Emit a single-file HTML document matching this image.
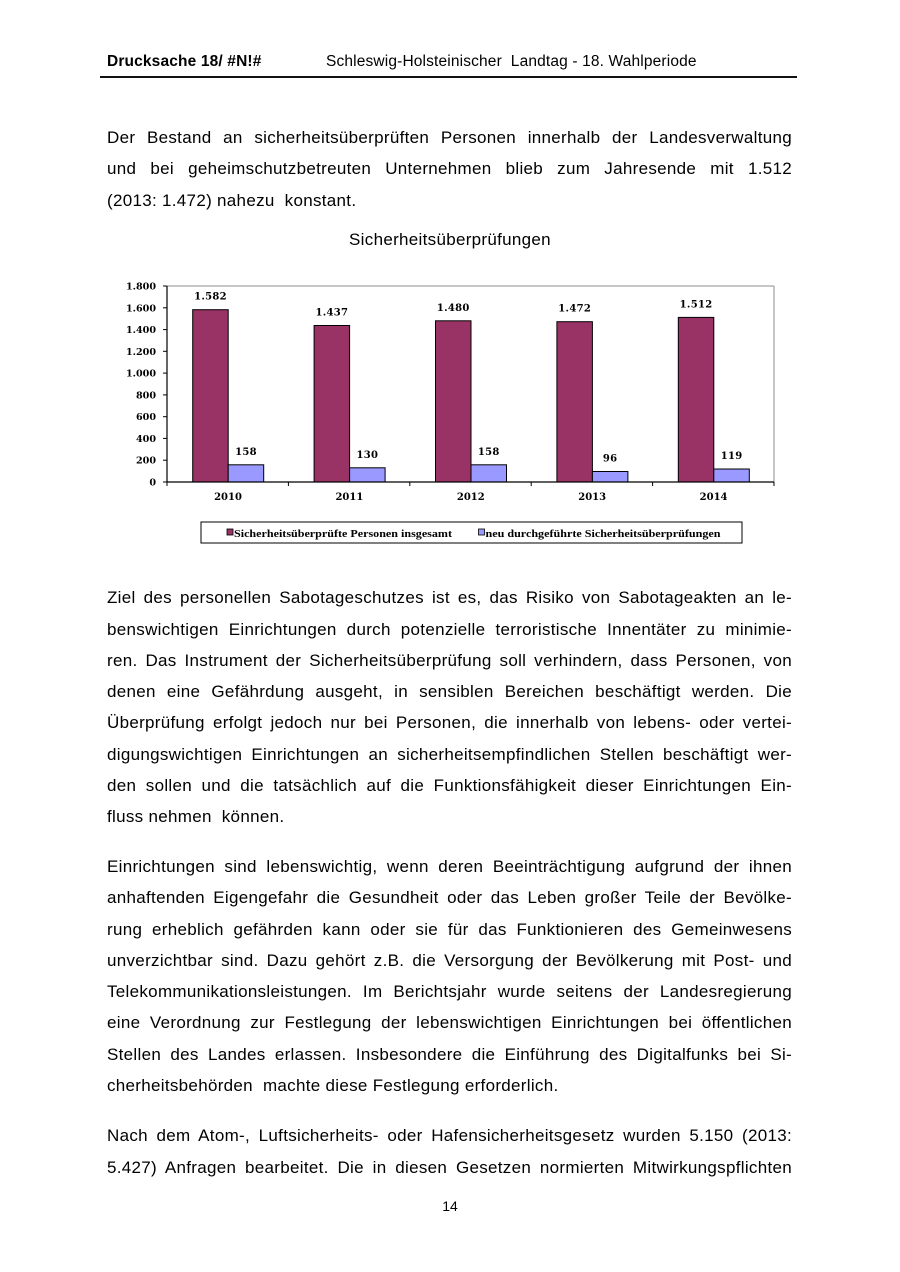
<!DOCTYPE html>
<html>
<head>
<meta charset="utf-8">
<style>
html,body{margin:0;padding:0;background:#fff;}
body{width:900px;height:1272px;position:relative;overflow:hidden;font-family:"Liberation Sans",Arial,sans-serif;color:#000;}
.hdr{position:absolute;top:52px;font-size:15.5px;line-height:20px;white-space:nowrap;letter-spacing:0.15px;}
.rule{position:absolute;left:100px;top:76px;width:697px;height:2px;background:#111;}
.l{position:absolute;left:107px;width:685px;font-size:17px;line-height:20px;letter-spacing:0.3px;white-space:nowrap;}
.j{text-align:justify;text-align-last:justify;white-space:normal;}
.title{position:absolute;left:0;width:900px;text-align:center;top:229.8px;font-size:17px;line-height:20px;letter-spacing:0.3px;}
.pn{position:absolute;left:0;width:900px;text-align:center;top:1197px;font-size:14px;line-height:18px;}
svg{position:absolute;left:0;top:0;}
</style>
</head>
<body>
<div class="hdr" style="left:107px;font-weight:bold;">Drucksache 18/ #N!#</div>
<div class="hdr" style="left:326px;">Schleswig-Holsteinischer&nbsp; Landtag - 18. Wahlperiode</div>
<div class="rule"></div>

<div class="l j" style="top:128.1px">Der Bestand an sicherheitsüberprüften Personen innerhalb der Landesverwaltung</div>
<div class="l j" style="top:159.3px">und bei geheimschutzbetreuten Unternehmen blieb zum Jahresende mit 1.512</div>
<div class="l" style="top:190.5px">(2013: 1.472) nahezu&nbsp; konstant.</div>

<div class="title">Sicherheitsüberprüfungen</div>

<svg width="900" height="560" viewBox="0 0 900 560" xmlns="http://www.w3.org/2000/svg">
  <g font-family="'DejaVu Serif', 'Liberation Serif', serif" font-weight="bold" font-size="9.6" fill="#000">
    <!-- plot border -->
    <line x1="167" y1="286" x2="774" y2="286" stroke="#8c8c8c" stroke-width="1"/>
    <line x1="774" y1="286" x2="774" y2="482" stroke="#8c8c8c" stroke-width="1"/>
    <!-- y tick labels -->
    <g text-anchor="end">
      <text x="156" y="485.5">0</text>
      <text x="156" y="463.7">200</text>
      <text x="156" y="441.9">400</text>
      <text x="156" y="420.2">600</text>
      <text x="156" y="398.4">800</text>
      <text x="156" y="376.6">1.000</text>
      <text x="156" y="354.8">1.200</text>
      <text x="156" y="333.1">1.400</text>
      <text x="156" y="311.3">1.600</text>
      <text x="156" y="289.5">1.800</text>
    </g>
    <g stroke="#000" stroke-width="1">
      <line x1="163" y1="482" x2="167" y2="482"/>
      <line x1="163" y1="460.2" x2="167" y2="460.2"/>
      <line x1="163" y1="438.4" x2="167" y2="438.4"/>
      <line x1="163" y1="416.7" x2="167" y2="416.7"/>
      <line x1="163" y1="394.9" x2="167" y2="394.9"/>
      <line x1="163" y1="373.1" x2="167" y2="373.1"/>
      <line x1="163" y1="351.3" x2="167" y2="351.3"/>
      <line x1="163" y1="329.6" x2="167" y2="329.6"/>
      <line x1="163" y1="307.8" x2="167" y2="307.8"/>
      <line x1="163" y1="286" x2="167" y2="286"/>
    </g>
    <!-- bars -->
    <g stroke="#000" stroke-width="1">
      <rect x="192.7" y="309.7" width="35.5" height="172.3" fill="#993366"/>
      <rect x="228.2" y="464.8" width="35.5" height="17.2" fill="#9999ff"/>
      <rect x="314.1" y="325.5" width="35.5" height="156.5" fill="#993366"/>
      <rect x="349.6" y="467.8" width="35.5" height="14.2" fill="#9999ff"/>
      <rect x="435.5" y="320.8" width="35.5" height="161.2" fill="#993366"/>
      <rect x="471.0" y="464.8" width="35.5" height="17.2" fill="#9999ff"/>
      <rect x="556.9" y="321.7" width="35.5" height="160.3" fill="#993366"/>
      <rect x="592.4" y="471.5" width="35.5" height="10.5" fill="#9999ff"/>
      <rect x="678.3" y="317.4" width="35.5" height="164.6" fill="#993366"/>
      <rect x="713.8" y="469.0" width="35.5" height="13.0" fill="#9999ff"/>
    </g>
    <!-- axes -->
    <line x1="167" y1="286" x2="167" y2="482.5" stroke="#000" stroke-width="1.2"/>
    <line x1="167" y1="482" x2="774" y2="482" stroke="#000" stroke-width="1.2"/>
    <g stroke="#000" stroke-width="1">
      <line x1="167" y1="482" x2="167" y2="486"/>
      <line x1="288.4" y1="482" x2="288.4" y2="486"/>
      <line x1="409.8" y1="482" x2="409.8" y2="486"/>
      <line x1="531.2" y1="482" x2="531.2" y2="486"/>
      <line x1="652.6" y1="482" x2="652.6" y2="486"/>
      <line x1="774" y1="482" x2="774" y2="486"/>
    </g>
    <!-- data labels -->
    <g text-anchor="middle" font-size="10" letter-spacing="0.3">
      <text x="210.5" y="299.5">1.582</text>
      <text x="246" y="455">158</text>
      <text x="331.9" y="315.5">1.437</text>
      <text x="367.4" y="458">130</text>
      <text x="453.3" y="310.8">1.480</text>
      <text x="488.8" y="455">158</text>
      <text x="574.7" y="311.7">1.472</text>
      <text x="610.2" y="461.5">96</text>
      <text x="696.1" y="307.4">1.512</text>
      <text x="731.6" y="459">119</text>
    </g>
    <!-- category labels -->
    <g text-anchor="middle" font-size="10">
      <text x="228" y="500">2010</text>
      <text x="349.4" y="500">2011</text>
      <text x="470.8" y="500">2012</text>
      <text x="592.2" y="500">2013</text>
      <text x="713.6" y="500">2014</text>
    </g>
    <!-- legend -->
    <rect x="201" y="522" width="541" height="21" fill="#fff" stroke="#000" stroke-width="1"/>
    <rect x="227" y="529" width="6" height="6" fill="#993366" stroke="#000" stroke-width="0.8"/>
    <rect x="478.5" y="529" width="6" height="6" fill="#9999ff" stroke="#000" stroke-width="0.8"/>
    <text x="234" y="536.8" font-family="'Liberation Serif', serif" font-size="11" textLength="218" lengthAdjust="spacingAndGlyphs">Sicherheitsüberprüfte Personen insgesamt</text>
    <text x="485.5" y="536.8" font-family="'Liberation Serif', serif" font-size="11" textLength="235" lengthAdjust="spacingAndGlyphs">neu durchgeführte Sicherheitsüberprüfungen</text>
  </g>
</svg>

<div class="l j" style="top:588.4px">Ziel des personellen Sabotageschutzes ist es, das Risiko von Sabotageakten an le-</div>
<div class="l j" style="top:619.65px">benswichtigen Einrichtungen durch potenzielle terroristische Innentäter zu minimie-</div>
<div class="l j" style="top:650.9px">ren. Das Instrument der Sicherheitsüberprüfung soll verhindern, dass Personen, von</div>
<div class="l j" style="top:682.15px">denen eine Gefährdung ausgeht, in sensiblen Bereichen beschäftigt werden. Die</div>
<div class="l j" style="top:713.4px">Überprüfung erfolgt jedoch nur bei Personen, die innerhalb von lebens- oder vertei-</div>
<div class="l j" style="top:744.65px">digungswichtigen Einrichtungen an sicherheitsempfindlichen Stellen beschäftigt wer-</div>
<div class="l j" style="top:775.9px">den sollen und die tatsächlich auf die Funktionsfähigkeit dieser Einrichtungen Ein-</div>
<div class="l" style="top:807.15px">fluss nehmen&nbsp; können.</div>

<div class="l j" style="top:857.1px">Einrichtungen sind lebenswichtig, wenn deren Beeinträchtigung aufgrund der ihnen</div>
<div class="l j" style="top:888.35px">anhaftenden Eigengefahr die Gesundheit oder das Leben großer Teile der Bevölke-</div>
<div class="l j" style="top:919.6px">rung erheblich gefährden kann oder sie für das Funktionieren des Gemeinwesens</div>
<div class="l j" style="top:950.85px">unverzichtbar sind. Dazu gehört z.B. die Versorgung der Bevölkerung mit Post- und</div>
<div class="l j" style="top:982.1px">Telekommunikationsleistungen. Im Berichtsjahr wurde seitens der Landesregierung</div>
<div class="l j" style="top:1013.35px">eine Verordnung zur Festlegung der lebenswichtigen Einrichtungen bei öffentlichen</div>
<div class="l j" style="top:1044.6px">Stellen des Landes erlassen. Insbesondere die Einführung des Digitalfunks bei Si-</div>
<div class="l" style="top:1075.85px">cherheitsbehörden&nbsp; machte diese Festlegung erforderlich.</div>

<div class="l j" style="top:1126.4px">Nach dem Atom-, Luftsicherheits- oder Hafensicherheitsgesetz wurden 5.150 (2013:</div>
<div class="l j" style="top:1157.7px">5.427) Anfragen bearbeitet. Die in diesen Gesetzen normierten Mitwirkungspflichten</div>

<div class="pn">14</div>
</body>
</html>
